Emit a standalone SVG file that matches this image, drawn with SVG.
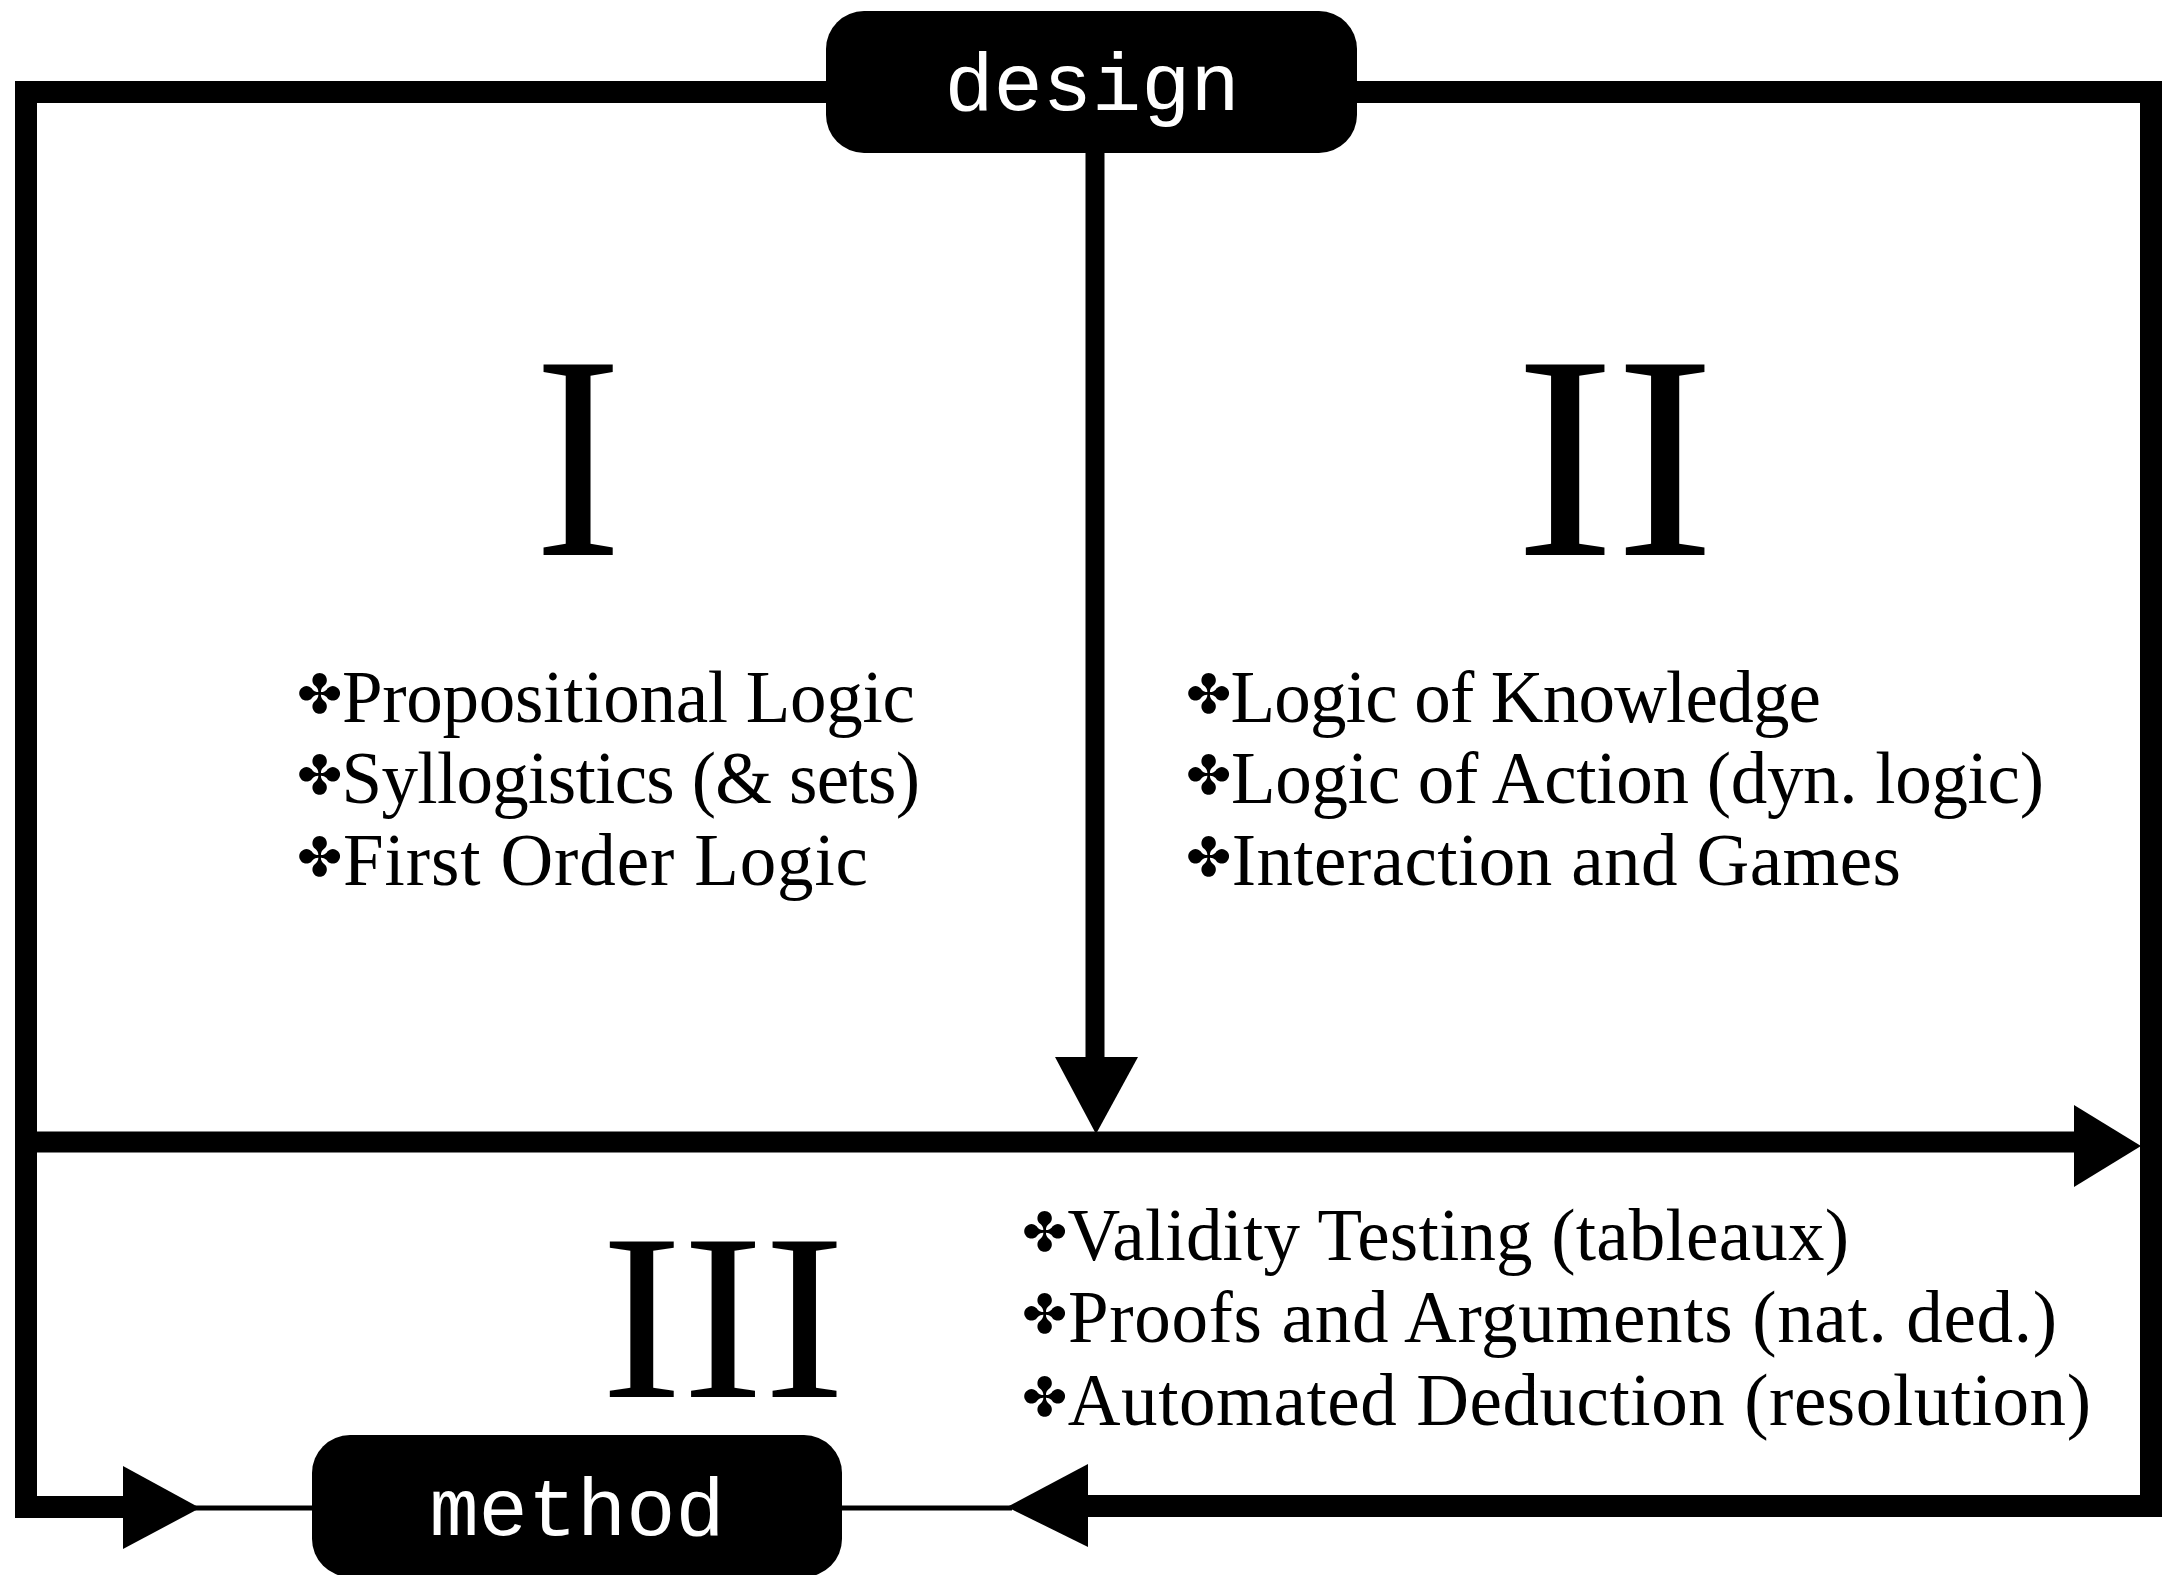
<svg xmlns="http://www.w3.org/2000/svg" width="2165" height="1575" viewBox="0 0 2165 1575">
<style>
.line{fill:none;stroke:#000;stroke-width:22;stroke-linejoin:miter;stroke-linecap:butt}
.thin{fill:none;stroke:#000;stroke-width:5}
.head{fill:#000}
.box{fill:#000}
.mono{font-family:"Liberation Mono",monospace;font-size:82px;fill:#fff;text-anchor:middle}
.roman{font-family:"Liberation Serif",serif;fill:#000;text-anchor:middle}
.item{font-family:"Liberation Serif",serif;font-size:73px;fill:#000}
.bul{font-family:"DejaVu Sans",sans-serif;font-size:54px}
</style>
<rect width="2165" height="1575" fill="#fff"/>
<g id="connectors">
  <path class="line" d="M830,92 H26 V1507 H125"/>
  <polygon class="head" points="123,1466 200,1508 123,1549"/>
  <line class="thin" x1="195" y1="1508" x2="315" y2="1508"/>
  <path class="line" d="M1350,92 H2151 V1506 H1086"/>
  <polygon class="head" points="1088,1464 1007,1507 1088,1547"/>
  <line class="thin" x1="838" y1="1508" x2="1012" y2="1508"/>
  <path class="line" style="stroke-width:19" d="M1095,150 V1060"/>
  <polygon class="head" points="1055,1057 1096,1134 1138,1057"/>
  <path class="line" style="stroke-width:21" d="M16,1142 H2076"/>
  <polygon class="head" points="2074,1105 2141,1146 2074,1187"/>
</g>
<g id="design">
  <rect class="box" x="826" y="11" width="531" height="142" rx="38" ry="38"/>
  <text class="mono" x="1092" y="110">design</text>
</g>
<g id="method">
  <rect class="box" x="312" y="1435" width="530" height="142" rx="38" ry="38"/>
  <text class="mono" x="577" y="1535">method</text>
</g>
<g id="region-I">
  <text class="roman" x="578" y="555" font-size="291" textLength="88" lengthAdjust="spacingAndGlyphs">I</text>
  <text class="item" x="297" y="722" textLength="618" lengthAdjust="spacing"><tspan class="bul" dy="-9">✤</tspan><tspan dy="9">Propositional Logic</tspan></text>
  <text class="item" x="297" y="803" textLength="623" lengthAdjust="spacing"><tspan class="bul" dy="-9">✤</tspan><tspan dy="9">Syllogistics (&amp; sets)</tspan></text>
  <text class="item" x="297" y="885" textLength="571" lengthAdjust="spacing"><tspan class="bul" dy="-9">✤</tspan><tspan dy="9">First Order Logic</tspan></text>
</g>
<g id="region-II">
  <text class="roman" x="1615" y="555" font-size="291" textLength="200" lengthAdjust="spacingAndGlyphs">II</text>
  <text class="item" x="1186" y="722" textLength="635" lengthAdjust="spacing"><tspan class="bul" dy="-9">✤</tspan><tspan dy="9">Logic of Knowledge</tspan></text>
  <text class="item" x="1186" y="803" textLength="858" lengthAdjust="spacing"><tspan class="bul" dy="-9">✤</tspan><tspan dy="9">Logic of Action (dyn. logic)</tspan></text>
  <text class="item" x="1186" y="885" textLength="715" lengthAdjust="spacing"><tspan class="bul" dy="-9">✤</tspan><tspan dy="9">Interaction and Games</tspan></text>
</g>
<g id="region-III">
  <text class="roman" x="723" y="1397" font-size="237" textLength="244" lengthAdjust="spacingAndGlyphs">III</text>
  <text class="item" x="1022" y="1260" textLength="827" lengthAdjust="spacing"><tspan class="bul" dy="-9">✤</tspan><tspan dy="9">Validity Testing (tableaux)</tspan></text>
  <text class="item" x="1022" y="1342" textLength="1035" lengthAdjust="spacing"><tspan class="bul" dy="-9">✤</tspan><tspan dy="9">Proofs and Arguments (nat. ded.)</tspan></text>
  <text class="item" x="1022" y="1425" textLength="1069" lengthAdjust="spacing"><tspan class="bul" dy="-9">✤</tspan><tspan dy="9">Automated Deduction (resolution)</tspan></text>
</g>
</svg>
